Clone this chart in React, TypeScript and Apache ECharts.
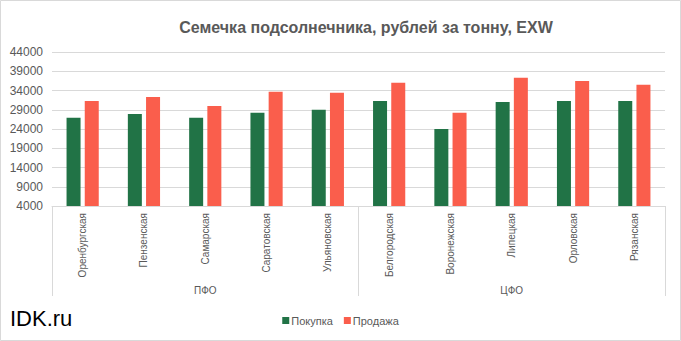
import React, { useEffect, useRef } from "react";
import * as echarts from "echarts";

const categories = [
  "Оренбургская",
  "Пензенская",
  "Самарская",
  "Саратовская",
  "Ульяновская",
  "Белгородская",
  "Воронежская",
  "Липецкая",
  "Орловская",
  "Рязанская",
];
const groups = ["ПФО", "ЦФО"];
const buyValues = [26900, 27900, 26900, 28200, 29000, 31300, 24000, 31000, 31300, 31300];
const sellValues = [31300, 32300, 30000, 33700, 33400, 36000, 28200, 37300, 36500, 35500];
const seriesNames = ["Покупка", "Продажа"];
const titleText = "Семечка подсолнечника, рублей за тонну, EXW";
const brandText = "IDK.ru";

const FONT = "'Liberation Sans', Arial, sans-serif";
const GRAY = "#595959";
const LINE = "#d9d9d9";

export default function App() {
  const ref = useRef<HTMLDivElement>(null);
  useEffect(() => {
    if (!ref.current) return;
    const chart = echarts.init(ref.current, undefined, { renderer: "svg" });
    chart.setOption({
      animation: false,
      backgroundColor: "#ffffff",
      textStyle: { fontFamily: FONT },
      title: {
        text: titleText,
        left: 361,
        top: 14,
        textAlign: "center",
        textStyle: { fontFamily: FONT, fontSize: 16, fontWeight: "bold", color: GRAY },
      },
      legend: {
        data: seriesNames,
        left: "center",
        top: 310,
        icon: "rect",
        itemWidth: 7,
        itemHeight: 7,
        itemGap: 11,
        textStyle: { fontFamily: FONT, fontSize: 11, color: GRAY, padding: [0, 0, 0, -3] },
      },
      grid: { left: 52, right: 16, top: 52, bottom: 135, containLabel: false },
      xAxis: [
        {
          type: "category",
          data: categories,
          position: "bottom",
          axisLine: { show: true, lineStyle: { color: LINE, width: 1 } },
          axisTick: { show: false },
          axisLabel: {
            rotate: 90,
            interval: 0,
            margin: 7,
            fontFamily: FONT,
            fontSize: 10,
            color: GRAY,
          },
        },
        {
          type: "category",
          data: groups,
          position: "bottom",
          axisLine: { show: false },
          axisTick: { show: true, length: 90, lineStyle: { color: LINE, width: 1 } },
          axisLabel: {
            interval: 0,
            margin: 79,
            fontFamily: FONT,
            fontSize: 10,
            color: GRAY,
          },
        },
      ],
      yAxis: {
        type: "value",
        min: 4000,
        max: 44000,
        interval: 5000,
        axisLine: { show: false },
        axisTick: { show: false },
        splitLine: { lineStyle: { color: LINE, width: 1 } },
        axisLabel: {
          fontFamily: FONT,
          fontSize: 12,
          color: GRAY,
          margin: 9,
          formatter: (v: number) => String(v),
        },
      },
      series: [
        {
          name: seriesNames[0],
          type: "bar",
          data: buyValues,
          barWidth: 14,
          barGap: "30%",
          itemStyle: { color: "#217346" },
        },
        {
          name: seriesNames[1],
          type: "bar",
          data: sellValues,
          barWidth: 14,
          barGap: "30%",
          itemStyle: { color: "#FA5E4C" },
        },
      ],
      graphic: [
        {
          type: "rect",
          shape: { x: 0.5, y: 0.5, width: 680, height: 340 },
          style: { fill: "none", stroke: LINE, lineWidth: 1 },
          silent: true,
        },
        {
          type: "text",
          left: 10,
          top: 307,
          style: { text: brandText, font: `22px ${FONT}`, fill: "#000000" },
        },
      ],
    });
    return () => chart.dispose();
  }, []);
  return (
    <div
      ref={ref}
      style={{ position: "fixed", left: 0, top: 0, width: 681, height: 341 }}
    />
  );
}
